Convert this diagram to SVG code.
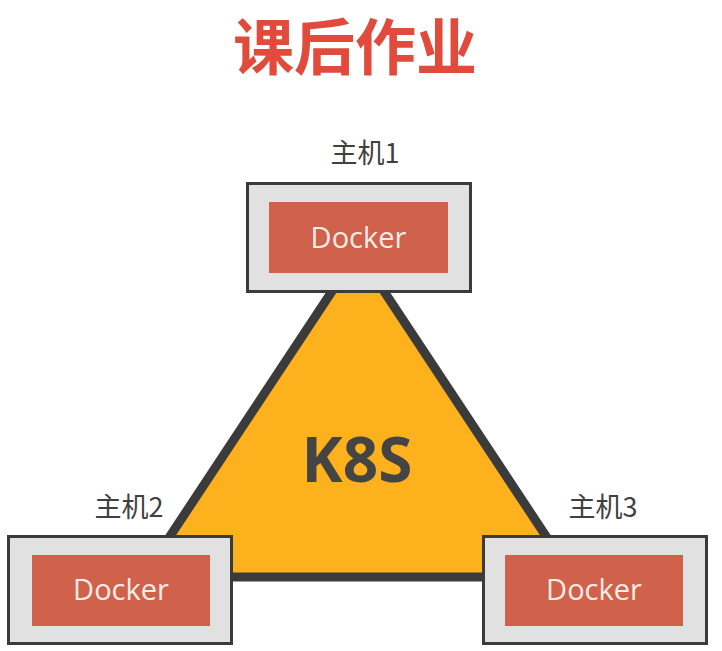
<svg xmlns="http://www.w3.org/2000/svg" width="722" height="651" viewBox="0 0 722 651">
  <style>
    .host { fill: #e1e1e1; stroke: #3b3b3b; stroke-width: 3; }
    .dock { fill: #d0614a; }
    .dtxt { font-family: "Open Sans", "Noto Sans", sans-serif; font-size: 29px; fill: #f7ece8; text-anchor: middle; }
    .lbl { font-family: "Noto Sans CJK SC", "Noto Sans", sans-serif; font-size: 27px; fill: #404040; text-anchor: middle; }
  </style>
  <rect width="722" height="651" fill="#ffffff"/>
  <text x="355" y="70" font-family="Noto Sans CJK SC, sans-serif" font-weight="bold" font-size="61" fill="#e04b3b" text-anchor="middle">课后作业</text>
  <g id="k8s">
    <polygon points="358,252 573,577 143,577" fill="#fdb21d" stroke="#3b3b3b" stroke-width="9" stroke-linejoin="miter"/>
    <text x="357" y="482" font-family="Open Sans, sans-serif" font-weight="bold" font-size="62" fill="#444444" text-anchor="middle">K8S</text>
  </g>
  <g id="host1">
    <text class="lbl" x="365" y="163">主机1</text>
    <rect class="host" x="247.5" y="183.5" width="223" height="108"/>
    <rect class="dock" x="269" y="202" width="179" height="71"/>
    <text class="dtxt" x="358.5" y="248">Docker</text>
  </g>
  <g id="host2">
    <text class="lbl" x="129" y="517">主机2</text>
    <rect class="host" x="8.5" y="536.5" width="223" height="107"/>
    <rect class="dock" x="32" y="555" width="178" height="71"/>
    <text class="dtxt" x="121" y="600">Docker</text>
  </g>
  <g id="host3">
    <text class="lbl" x="603" y="517">主机3</text>
    <rect class="host" x="483.5" y="536.5" width="223" height="107"/>
    <rect class="dock" x="505" y="555" width="178" height="71"/>
    <text class="dtxt" x="594" y="600">Docker</text>
  </g>
</svg>
